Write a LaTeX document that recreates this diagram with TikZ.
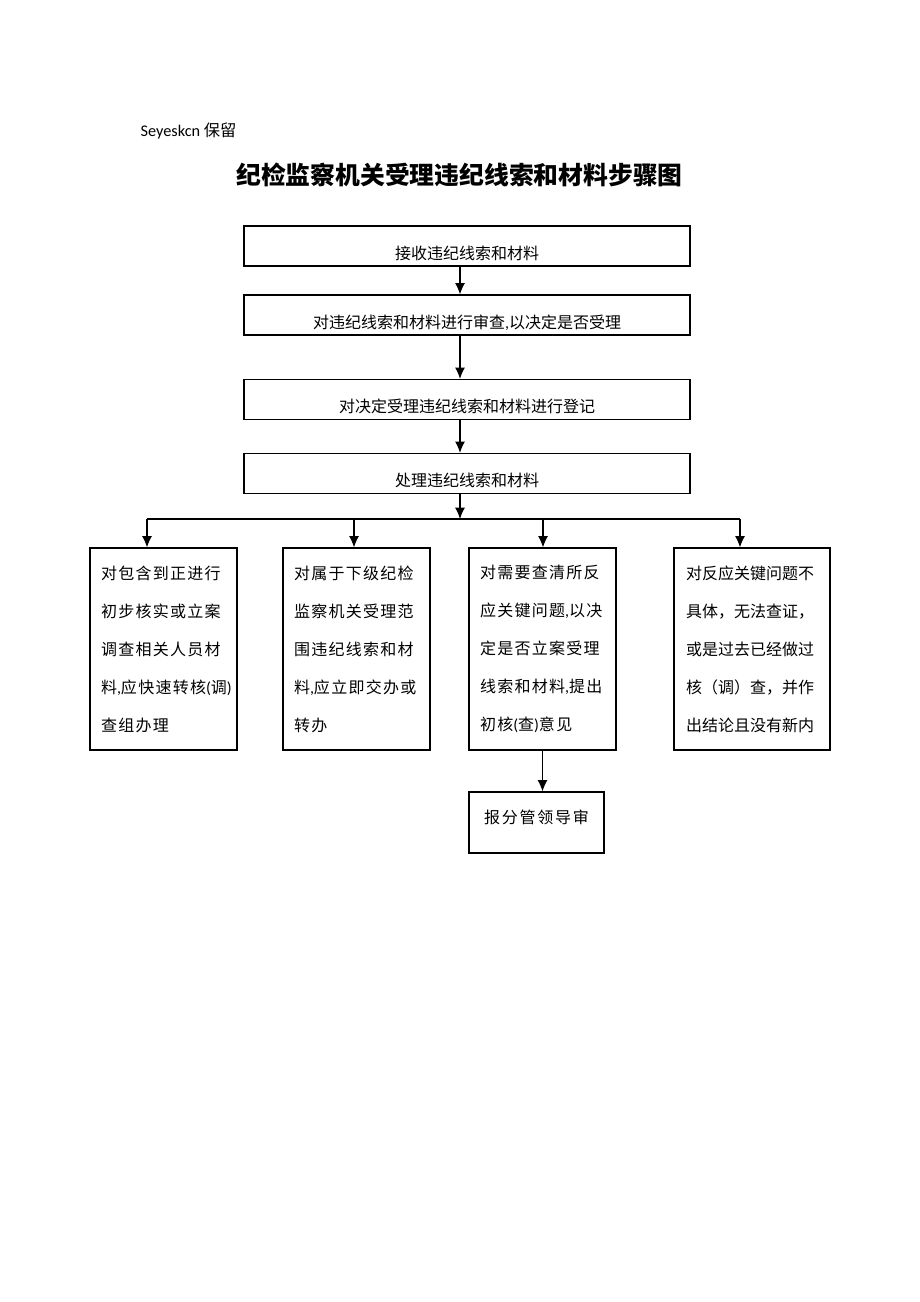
\documentclass[tikz,border=0pt]{standalone}
\usepackage{fontspec}
\setmainfont{Carlito}
\newfontfamily\cjk{Noto Sans CJK SC}
\newfontfamily\cjkspaced[LetterSpace=8]{Noto Sans CJK SC}
\newfontfamily\cjkwide[LetterSpace=11]{Noto Sans CJK SC}
\newcommand\asc[1]{{\rmfamily #1}}
\usetikzlibrary{arrows.meta, positioning}
\tikzstyle{arrow} = [line width=0.9pt,-{Latex[length=8.5pt,width=7.5pt]}]
\tikzstyle{mainbox} = [draw, line width=0.9pt, minimum width=334.5pt, minimum height=30pt, inner ysep=0pt, text height=2.2em, text depth=0.2em, font=\cjk\fontsize{12}{14}\selectfont]
\tikzstyle{sidebox} = [draw, line width=0.9pt, minimum height=151.5pt, inner xsep=8.25pt, text width=93.75pt, align=left, font=\cjkspaced\fontsize{12}{28.5}\selectfont]

\begin{document}
\begin{tikzpicture}[x=0.75pt,y=-0.75pt]
\useasboundingbox (0,0) rectangle (920,1302);

% Heading
\node[anchor=west] (note) at (136,131) {\fontsize{12.2}{14}\selectfont Seyeskcn {\cjk 保留}};
\node (title) at (459.5,175) {\cjk\bfseries\fontsize{18.6}{20}\selectfont 纪检监察机关受理违纪线索和材料步骤图};

% Main steps
\node[mainbox] (recv) at (467,246) {接收违纪线索和材料};
\node[mainbox] (review) at (467,315) {对违纪线索和材料进行审查\asc{,}以决定是否受理};
\node[mainbox] (register) at (467,399.5) {对决定受理违纪线索和材料进行登记};
\node[mainbox] (handle) at (467,473.5) {处理违纪线索和材料};

\coordinate (spine) at (460,0);
\draw[arrow] (recv.south -| spine) -- (review.north -| spine);
\draw[arrow] (review.south -| spine) -- (register.north -| spine);
\draw[arrow] (register.south -| spine) -- (handle.north -| spine);

% Branches
\node[sidebox] (fast) at (163.5,649) {对包含到正进行\\初步核实或立案\\调查相关人员材\\料\asc{,}应快速转核\asc{(}调\asc{)}\\查组办理};
\node[sidebox] (transfer) at (356.5,649) {对属于下级纪检\\监察机关受理范\\围违纪线索和材\\料\asc{,}应立即交办或\\转办};
\node[sidebox] (verify) at (542.5,649) {对需要查清所反\\应关键问题\asc{,}以决\\定是否立案受理\\线索和材料\asc{,}提出\\初核\asc{(}查\asc{)}意见};
\node[sidebox, inner xsep=9pt, text width=99pt, font=\cjk\fontsize{12}{28.5}\selectfont] (close) at (752,649) {对反应关键问题不\\具体，无法查证，\\或是过去已经做过\\核（调）查，并作\\出结论且没有新内};

\coordinate (barL) at (147,519);
\coordinate (barR) at (740,519);
\draw[arrow] (handle.south -| spine) -- (barL -| spine);
\draw[line width=0.9pt] (barL) -- (barR);
\foreach \x/\n in {147/fast, 354/transfer, 543/verify, 740/close} {
    \coordinate (top\n) at (\x,519);
    \draw[arrow] (top\n) -- (top\n |- \n.north);
}

% Report
\node[draw, line width=0.9pt, minimum width=101.25pt, minimum height=45.75pt, text height=0.9em, text depth=0.7em, font=\cjkwide\fontsize{12}{14}\selectfont] (report) at (536.5,822.5) {报分管领导审};
\draw[arrow] (verify.south) -- (verify.south |- report.north);
\end{tikzpicture}
\end{document}
